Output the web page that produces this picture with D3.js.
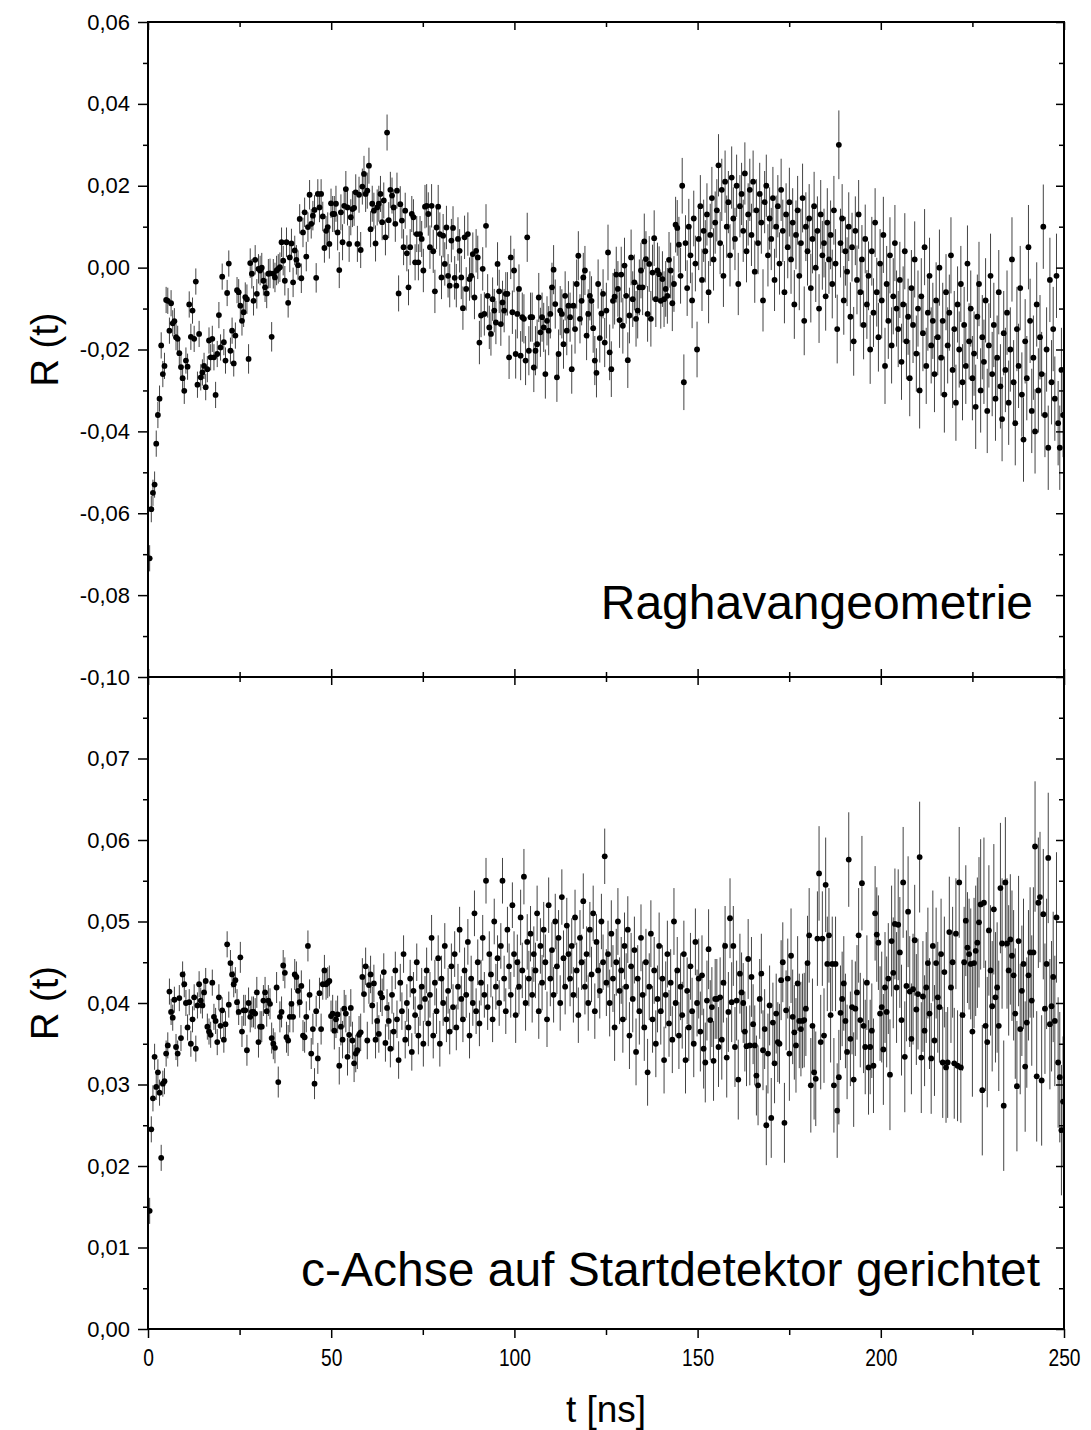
<!DOCTYPE html>
<html><head><meta charset="utf-8">
<script src="https://cdn.jsdelivr.net/npm/d3@7"></script>
<style>body{margin:0;background:#fff}</style>
</head><body>
<script>
// ---- data ----------------------------------------------------------
// time channels: t_i = T0 + DT * i  (ns)
const T0 = 0.45, DT = 0.45;
// R(t) values in units of 1e-3
const rTopMilli = [
-71,-59,-55,-53,-43,-36,-32,-19,-26,
-24,-7.9,-8.1,-15.4,-8.7,-13.6,-13.1,-17,-17.4,-20.9,
-24.3,-27,-30.1,-22.7,-24.2,-9.0,-16.9,-10.5,-17.4,-3.4,
-28.6,-16.2,-26.8,-25.6,-24,-29.2,-24.8,-17.8,-21.9,-17.4,
-21.9,-31.1,-21.1,-11.6,-19.5,-2.2,-18.2,-22.7,-6.2,1.0,
-20.3,-15.4,-23.4,-16.6,-5.5,-6.0,-9.3,-13,-10.9,-7.2,
-7.7,-22.3,1.1,-1.5,-8.1,1.9,-6.4,-0.3,-0.7,0,
-3.2,-4.8,-6.3,-1.5,-1.4,-16.9,-1.5,-2.4,-0.7,-0.3,
0.1,6.2,1.7,-3.2,6.2,-8.6,2.5,5.9,-3.6,4.2,
1.9,0.6,11.9,-2.6,8.6,13.5,2.7,9.9,17.8,10.7,
12.7,14.1,-2.5,18,14.7,18,12.5,4.8,9,9.9,
5.8,15.7,13.1,13.1,15.6,8.6,-0.6,13.5,6.2,15.1,
19.2,14.7,5.8,12.3,14.3,14.6,18.4,5.8,17.8,4.3,
19.8,22.9,18,18.8,24.9,9.4,15.6,13.9,5.9,14.7,
15.6,18,11.1,16.4,7.4,33,11.6,19,17.6,14.7,
10.7,
18.8,-6.3,15.5,11.5,5,13.9,3.5,-4.8,5,
13.1,12.3,1.3,8.2,1.3,8.2,7,-0.7,14.9,
15.1,13.1,5,15.1,4,-5.8,9.8,14.9,8.2,
-2.4,7.8,0.9,9.8,-2,-4.4,6.6,9.7,-2.5,-4.4,
7,4.1,-2.4,-9.9,7.4,-5.2,8.2,-2.8,-2,
3.3,-7.3,4.1,2.5,-18.3,-11.7,-0.3,-11.3,10.2,
-6.9,-14.6,-16.2,-7.7,-10.5,-13.4,0.9,-5.8,-13.8,-8.5,
-10.5,-6.4,-6.4,-21.9,2.5,-10.9,-0.7,-21.1,-11.3,-5.2,
-21.5,-12.1,-12.5,-22.7,7.4,-20.3,-12.1,-12.1,-24.4,
-20.3,-18.7,-7.3,-15.8,-12.1,-14.6,-26,-13,-15.4,-11.3,
-4.8,-0.5,-8.9,-26.8,-21.1,-10.5,-11.3,-18.7,-6.9,
-15.4,-9.3,-12.1,-24.8,-9.3,-15,-4,2.9,-12.5,
-8.1,-2.4,-0.7,-16.6,-11.3,-6.9,-8.1,-14.8,-22.7,
-25.7,-4,-17.2,-11.2,-6.4,-18.3,-10.5,3.7,-20.7,-24.8,
-8.1,-7.1,-1.7,-5.2,-12.8,-1.7,-14.2,0.5,-6.9,-22.6,
-11.7,2.5,-7.7,-3.6,-12.5,-10.5,-4.8,-0.7,-4.8,6.4,
2.1,-11.3,0.9,-12.5,-1.2,7.2,-7.7,-0.7,-1.6,-8.1,
-2.8,-7.7,-5.2,-6.9,1.9,-0.7,-8.7,-4,10.5,9.7,5.6,
-2,20,-28,6,-5,10,3,-8,12,1,-20,7,15,-3,9,4,13,-6,8,17,2,11,
14,25,6,19,-2,21,10,16,3,22,12,7,20,-4,15,18,9,23,4,13,19,8,
21,-1,14,6,18,11,-8,16,20,3,12,7,17,-3,10,15,1,19,9,-6,13,5,
16,2,11,-9,8,14,-2,6,17,-13,10,4,12,-5,7,15,0,9,-10,13,3,6,
-7,11,2,8,-4,14,1,-15,30,6,12,-8,4,-1,10,-12,5,-18,9,-3,13,-6,
2,-14,7,-9,-2,-20,4,-11,11,-6,-17,1,-8,8,-24,-4,-13,3,-19,-7,6,-10,
-15,-3,-23,-9,4,-18,-12,-27,-5,-14,2,-21,-10,-30,-7,-16,5,-24,-11,-2,-19,-13,
-26,-8,-17,0,-22,-13,-31,-6,-19,-11,3,-25,-15,-33,-9,-20,-4,-28,-14,-24,1,-18,
-10,-27,-21,-34,-12,-4,-30,-17,-23,-8,-35,-19,-2,-26,-14,-32,-22,-6,-29,-37,-16,-25,
-11,-33,-20,2,-28,-38,-15,-24,-5,-31,-42,-18,-27,5,-13,-35,-22,-40,-9,-30,-17,-26,
10,-36,-20,-44,-3,-28,-15,-32,-2,-38,-44,-25,-36
];
const rBottomMilli = [
14.5,24.5,28.3,33.4,29.7,31.5,29,21,30.1,30.4,33.8,34.8,
41.4,38.9,38.2,40.4,34.6,33.8,40.6,35.7,43.5,42.3,40,37,40.1,35,38,40.7,34.4,39.7,
42.3,40.3,39.7,41.3,42.7,37.1,36.5,36.1,42.5,38.3,37.8,35.2,40.7,37.2,39.1,35.5,37.4,47.2,39.8,44.9,43.5,42.3,42.8,40.1,
38.9,45.6,36.5,39.1,39.1,34.2,40,38.3,38.9,38.9,38.7,41.3,35.2,37.1,37.1,40.3,41.3,39,40.3,39.9,35.7,
35,34.5,41.9,30.3,38.3,38.9,44.6,43.7,35.8,35.4,38.3,39.9,38.3,43.5,43.2,41.5,40.1,42.1,36,35.8,38.3,
47,41,33.8,36.8,30.1,39,33.2,41.2,36.8,42.3,44,42.3,42.5,42.7,38.4,38.7,36.6,38,38.6,
32.3,37.1,35.5,39.3,38.7,33.4,36.1,39.4,35.4,32.6,33.8,34.2,36.1,36.4,43.2,41.1,44.5,35.4,42.2,
43.5,39.7,42.4,35.5,37.8,36.2,41.2,40.7,43.8,35.1,39.4,37.8,34.4,
41,36.5,44,38,33,42.5,39,46,35.5,40,37,43,34,41.5,38.5,45,36,39.5,42,35,40.5,
44,37.5,41,48,36,42.5,39,45.5,35,43,40,47,38,41.5,36.5,44.5,39.5,46,37,42,49,40.5,
38,44,41,47.5,36,43,40,51,39,45,37.5,42.5,48,41,55,39.5,46,43.5,38,50,42,45.5,
40,47,55,43,39,49,44.5,41,52,46,38.5,45,42,50.5,44,55.5,40,47.5,43,48.5,41,46,
44,51,39,47,42.5,49,45,38,52,43,46.5,41,50,44.5,48,40,53,45.5,42,49.5,46,43,
47,41,50.5,44,38.5,48,45,52.5,42,46,40,49,43.5,51,39,47.5,44,41.5,50,45,58,42.5,
46,40,48.5,43,37,45,50,41.5,44,38,47,42,49,36,44.5,40.5,46.5,34,43,39,48,41,
37,45,31.5,42,48.5,38,44,35,40.5,47,39,43,33,41,46,37.5,42.5,35.5,50,40,44,36,
42,38.5,46,33,41.5,37,44.5,39,35,47.5,40,43,36.5,
43.4,34.4,32.7,40.3,46.6,37.9,39.5,32.9,40.5,
40.5,34.6,40.7,35.5,42.5,47,33.3,38.9,50.4,
40.1,47,34.6,40.3,30.6,43.6,41.3,40,36.5,
34.7,45.4,34.8,43.2,37.4,34.8,31.1,29.9,40.5,
43.6,34.2,36.8,25,33.8,39.7,25.9,37.6,32.6,
38.7,35.2,35,42.8,45,25.3,39.1,43,33.8,
45.8,38.3,36.4,34.8,42.4,37.8,36.8,37.8,37.9,
39.3,44.9,48.3,29.9,37.2,31.5,30.7,47.9,55.9,
35.2,47.9,36,54.5,44.8,48.3,38.5,44.8,29.9,
44.8,26.8,30.9,38.8,40.5,42.4,37.8,34,57.6,
35.6,39.5,30.6,39.3,41.3,48.3,37.9,54.7,37.2,
34.6,42.5,32.1,34.6,36.6,32.3,51,48.4,47.4,
38.7,39.5,34.3,41.9,38.9,43,31.2,47.6,43.7,
49.7,41.9,49.6,46.2,37.9,54.8,33.4,42.1,51.2,
41.4,35.6,41.7,47.7,39.2,41.1,57.9,33.3,40.8,
36.6,41.9,44.9,38.7,33.2,47,35.4,44.9,40.7,
39.5,46,32.7,43.8,32.1,32.7,48.7,41.9,45,
32.6,48.5,32.3,54.8,32.1,38.5,45,50.1,46.8,
46,44.8,36.5,44.9,46.4,47.4,49.9,52.1,29.3,
52.3,37.2,35.2,48.9,44,39.6,51.5,40.7,41.9,
37.2,54.1,47.3,27.4,54.8,47.3,44,47.8,45.8,
43.4,38.7,29.8,47.6,36.8,41.5,44.8,32.2,37.6,
43.4,46.2,40.3,46.2,59.2,31,52.3,53,30.5,
50.9,39.3,44.8,57.8,37.4,39.6,43.2,37.8,50.5,
32.7,30.9,24.4,27.9
];
// error bar half-lengths (1e-3) per 25 ns block
const ERR_BLOCK = 25;
const errTopMilli    = [3.2,3.6,4.4,5.3,6.0,6.8,7.6,8.4,9.3,10.3];
const errBottomMilli = [1.6,1.9,2.3,2.8,3.4,4.1,4.9,5.8,6.8,8.0];
// ticks
const xMajor = [0,50,100,150,200,250];
const xMinor = [25,75,125,175,225];
const yTopMajor = [-0.10,-0.08,-0.06,-0.04,-0.02,0.00,0.02,0.04,0.06];
const yTopMinor = [-0.09,-0.07,-0.05,-0.03,-0.01,0.01,0.03,0.05];
const yBotMajor = [0.00,0.01,0.02,0.03,0.04,0.05,0.06,0.07];
const yBotMinor = [0.005,0.015,0.025,0.035,0.045,0.055,0.065,0.075];
const panelNames = ["Raghavangeometrie","c-Achse auf Startdetektor gerichtet"];
const yTitle = "R (t)";
const xTitle = "t [ns]";

// ---- drawing -------------------------------------------------------
const W = 1091, H = 1430;
const L = 148, R = 1064;
const FONT = "'Liberation Sans', Arial, sans-serif";
const svg = d3.select("body").append("svg")
  .attr("width", W).attr("height", H)
  .style("font-family", FONT);
const x = d3.scaleLinear().domain([0, 250]).range([L, R]);
const fmt = v => (v < -1e-9 ? "-" : "") + Math.abs(v).toFixed(2).replace(".", ",");

const panels = [
  {vals: rTopMilli, errs: errTopMilli, y: d3.scaleLinear().domain([-0.10, 0.06]).range([677, 22]),
   major: yTopMajor, minor: yTopMinor, name: panelNames[0], nameY: 619, nameX: 1033},
  {vals: rBottomMilli, errs: errBottomMilli, y: d3.scaleLinear().domain([0, 0.08]).range([1329, 677]),
   major: yBotMajor, minor: yBotMinor, name: panelNames[1], nameY: 1286, nameX: 1040}
];

function styleAxis(g, fs) {
  g.select(".domain").remove();
  g.selectAll(".tick line").attr("stroke", "#000").attr("stroke-width", 1.5);
  g.selectAll(".tick text").attr("fill", "#000").attr("font-size", fs || 20)
    .style("font-family", FONT);
  return g;
}

panels.forEach((p, k) => {
  const [yb, yt] = p.y.range();
  const data = p.vals.map((v, i) => {
    const t = T0 + DT * i;
    const e = p.errs[Math.min(p.errs.length - 1, Math.floor(t / ERR_BLOCK))];
    return {t, v: v * 1e-3, e: e * 1e-3};
  });
  const clipId = "clip" + k;
  svg.append("clipPath").attr("id", clipId).append("rect")
    .attr("x", L).attr("y", yt).attr("width", R - L).attr("height", yb - yt);
  const dg = svg.append("g").attr("clip-path", `url(#${clipId})`);
  dg.selectAll("line").data(data).join("line")
    .attr("x1", d => x(d.t)).attr("x2", d => x(d.t))
    .attr("y1", d => p.y(d.v - d.e)).attr("y2", d => p.y(d.v + d.e))
    .attr("stroke", "#444").attr("stroke-width", 1);
  dg.selectAll("circle").data(data).join("circle")
    .attr("cx", d => x(d.t)).attr("cy", d => p.y(d.v))
    .attr("r", 2.9).attr("fill", "#000");

  // left axis
  styleAxis(svg.append("g").attr("transform", `translate(${L},0)`)
    .call(d3.axisLeft(p.y).tickValues(p.major).tickSize(10).tickPadding(8).tickFormat(fmt)), 22);
  styleAxis(svg.append("g").attr("transform", `translate(${L},0)`)
    .call(d3.axisLeft(p.y).tickValues(p.minor).tickSize(5).tickFormat("")));
  // right axis (inward)
  styleAxis(svg.append("g").attr("transform", `translate(${R},0)`)
    .call(d3.axisRight(p.y).tickValues(p.major).tickSize(-8).tickFormat("")));
  styleAxis(svg.append("g").attr("transform", `translate(${R},0)`)
    .call(d3.axisRight(p.y).tickValues(p.minor).tickSize(-5).tickFormat("")));
  // top edge (inward)
  styleAxis(svg.append("g").attr("transform", `translate(0,${yt})`)
    .call(d3.axisTop(x).tickValues(xMajor).tickSize(-8).tickFormat("")));
  styleAxis(svg.append("g").attr("transform", `translate(0,${yt})`)
    .call(d3.axisTop(x).tickValues(xMinor).tickSize(-5).tickFormat("")));
  // bottom edge
  if (k === 0) {
    styleAxis(svg.append("g").attr("transform", `translate(0,${yb})`)
      .call(d3.axisBottom(x).tickValues(xMajor).tickSize(-8).tickFormat("")));
    styleAxis(svg.append("g").attr("transform", `translate(0,${yb})`)
      .call(d3.axisBottom(x).tickValues(xMinor).tickSize(-5).tickFormat("")));
  } else {
    const gx = styleAxis(svg.append("g").attr("transform", `translate(0,${yb})`)
      .call(d3.axisBottom(x).tickValues(xMajor).tickSize(9).tickPadding(11).tickFormat(d3.format("d"))), 24);
    gx.selectAll(".tick text").attr("transform", "scale(0.8,1)")
      .attr("x", 0);
    styleAxis(svg.append("g").attr("transform", `translate(0,${yb})`)
      .call(d3.axisBottom(x).tickValues(xMinor).tickSize(6).tickFormat("")));
  }
  // frame
  svg.append("rect").attr("x", L).attr("y", yt).attr("width", R - L).attr("height", yb - yt)
    .attr("fill", "none").attr("stroke", "#000").attr("stroke-width", 2);
  // y title
  svg.append("text").attr("transform", `translate(45,${(yt + yb) / 2}) rotate(-90)`)
    .attr("text-anchor", "middle").attr("dy", "0.35em").attr("font-size", 38).text(yTitle);
  // panel label
  svg.append("text").attr("x", p.nameX).attr("y", p.nameY).attr("text-anchor", "end")
    .attr("font-size", 48).text(p.name);
});

svg.append("text").attr("x", (L + R) / 2).attr("y", 1422).attr("text-anchor", "middle")
  .attr("font-size", 37).text(xTitle);
</script>
</body></html>
